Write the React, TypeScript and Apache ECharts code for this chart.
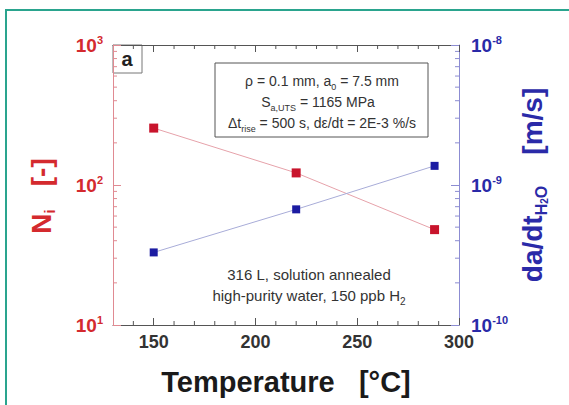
import React, { useEffect, useRef } from "react";
import * as echarts from "echarts";

// ---- data ----
const TEMPS = [150, 220, 288];
const CYCLES = [255, 122, 48];
const RATES = [3.3e-10, 6.7e-10, 1.37e-9];

const X_MIN = 130;
const X_MAX = 300;
const Y1_MIN = 10;
const Y1_MAX = 1000;
const Y2_MIN = 1e-10;
const Y2_MAX = 1e-8;

const X_MAJOR = [150, 200, 250, 300];
const X_MINOR = [140, 160, 170, 180, 190, 210, 220, 230, 240, 260, 270, 280, 290];
const LEFT_MINOR = [20, 30, 40, 50, 60, 70, 80, 90, 200, 300, 400, 500, 600, 700, 800, 900];
const RIGHT_MINOR = [2e-10, 3e-10, 4e-10, 5e-10, 6e-10, 7e-10, 8e-10, 9e-10, 2e-9, 3e-9, 4e-9, 5e-9, 6e-9, 7e-9, 8e-9, 9e-9];

// ---- styles ----
const FONT = "'Liberation Sans', Arial, Helvetica, sans-serif";
const RED = "#d42a2e";
const RED_MARK = "#c8142c";
const RED_LINE = "#e6a2aa";
const RED_AXIS = "#e08a92";
const BLUE = "#2a2aa8";
const BLUE_MARK = "#1c1ca2";
const BLUE_LINE = "#a8acd8";
const BLUE_AXIS = "#8c8cd2";
const DARK = "#333333";
const TEAL = "#2aa48e";

const supLabel = (v: number) => {
  const e = Math.round(Math.log10(v));
  return "{b|10}{s|" + e + "}";
};

const labelRich = (color: string) => ({
  b: { fontSize: 19, fontWeight: "bold", color, fontFamily: FONT, lineHeight: 22 },
  s: { fontSize: 11, fontWeight: "bold", color, fontFamily: FONT, verticalAlign: "top", lineHeight: 12 },
});

export default function App() {
  const ref = useRef<HTMLDivElement>(null);
  useEffect(() => {
    if (!ref.current) return;
    const chart = echarts.init(ref.current, undefined, { renderer: "svg" });

    const subRich = {
      sub: { fontSize: 9, fontFamily: FONT, fill: DARK, verticalAlign: "bottom", lineHeight: 10 },
    };

    const option: any = {
      animation: false,
      backgroundColor: "#ffffff",
      grid: { left: 113, right: 110, top: 45, bottom: 80, containLabel: false },
      xAxis: [
        {
          type: "value",
          min: X_MIN,
          max: X_MAX,
          position: "bottom",
          axisLine: { show: true, lineStyle: { color: "#555555", width: 1 } },
          axisTick: { show: true, inside: true, length: 7, customValues: X_MAJOR, lineStyle: { color: "#555555" } },
          axisLabel: {
            customValues: X_MAJOR,
            fontSize: 18,
            fontWeight: "bold",
            color: DARK,
            fontFamily: FONT,
            margin: 8,
          },
          splitLine: { show: false },
          name: "Temperature   [°C]",
          nameLocation: "middle",
          nameGap: 42,
          nameTextStyle: { fontSize: 29, fontWeight: "bold", color: "#1a1a1a", fontFamily: FONT },
        },
        {
          type: "value",
          min: X_MIN,
          max: X_MAX,
          position: "top",
          axisLine: { show: true, lineStyle: { color: "#555555", width: 1 } },
          axisTick: { show: true, inside: true, length: 7, customValues: X_MAJOR, lineStyle: { color: "#555555" } },
          axisLabel: { show: false },
          splitLine: { show: false },
        },
      ],
      yAxis: [
        {
          type: "log",
          logBase: 10,
          min: Y1_MIN,
          max: Y1_MAX,
          position: "left",
          axisLine: { show: true, lineStyle: { color: RED_AXIS, width: 1 } },
          axisTick: { show: true, inside: true, length: 8, lineStyle: { color: RED_AXIS } },
          axisLabel: {
            formatter: (v: number) => supLabel(v),
            rich: labelRich(RED),
            margin: 10,
          },
          splitLine: { show: false },
          name: "{n|N}{ns|i}{n|   [-]}",
          nameLocation: "middle",
          nameRotate: 90,
          nameGap: 56,
          nameTextStyle: {
            padding: [0, 22, 0, 0],
            rich: {
              n: { fontSize: 28, fontWeight: "bold", color: RED, fontFamily: FONT, lineHeight: 32 },
              ns: { fontSize: 14, fontWeight: "bold", color: RED, fontFamily: FONT, verticalAlign: "bottom", lineHeight: 14 },
            },
          },
        },
        {
          type: "log",
          logBase: 10,
          min: Y2_MIN,
          max: Y2_MAX,
          position: "right",
          axisLine: { show: true, lineStyle: { color: BLUE_AXIS, width: 1 } },
          axisTick: { show: true, inside: true, length: 8, lineStyle: { color: BLUE_AXIS } },
          axisLabel: {
            formatter: (v: number) => supLabel(v),
            rich: labelRich(BLUE),
            margin: 12,
          },
          splitLine: { show: false },
          name: "{n|da/dt}{s|H}{s2|2}{s|O}{n|    [m/s]}",
          nameLocation: "middle",
          nameRotate: 90,
          nameGap: 55,
          nameTextStyle: {
            rich: {
              n: { fontSize: 28, fontWeight: "bold", color: BLUE, fontFamily: FONT, lineHeight: 34 },
              s: { fontSize: 16, fontWeight: "bold", color: BLUE, fontFamily: FONT, verticalAlign: "bottom", lineHeight: 16 },
              s2: { fontSize: 10, fontWeight: "bold", color: BLUE, fontFamily: FONT, verticalAlign: "bottom", lineHeight: 6 },
            },
          },
        },
      ],
      series: [
        {
          name: "cycles",
          type: "line",
          xAxisIndex: 0,
          yAxisIndex: 0,
          data: TEMPS.map((t, i) => [t, CYCLES[i]]),
          symbol: "rect",
          symbolSize: 9,
          itemStyle: { color: RED_MARK },
          lineStyle: { color: RED_LINE, width: 1 },
          z: 5,
        },
        {
          name: "rate",
          type: "line",
          xAxisIndex: 0,
          yAxisIndex: 1,
          data: TEMPS.map((t, i) => [t, RATES[i]]),
          symbol: "rect",
          symbolSize: 8,
          itemStyle: { color: BLUE_MARK },
          lineStyle: { color: BLUE_LINE, width: 1 },
          z: 5,
        },
        {
          type: "custom",
          xAxisIndex: 0,
          yAxisIndex: 0,
          silent: true,
          data: X_MINOR.map((v) => [v]),
          renderItem: (params: any, api: any) => {
            const x = api.value(0);
            const b = api.coord([x, Y1_MIN]);
            const t = api.coord([x, Y1_MAX]);
            return {
              type: "group",
              children: [
                { type: "line", shape: { x1: b[0], y1: b[1], x2: b[0], y2: b[1] - 4 }, style: { stroke: "#555555", lineWidth: 1 } },
                { type: "line", shape: { x1: t[0], y1: t[1], x2: t[0], y2: t[1] + 4 }, style: { stroke: "#555555", lineWidth: 1 } },
              ],
            };
          },
          z: 3,
        },
        {
          type: "custom",
          xAxisIndex: 0,
          yAxisIndex: 0,
          silent: true,
          data: LEFT_MINOR.map((v) => [X_MIN, v]),
          renderItem: (params: any, api: any) => {
            const p = api.coord([api.value(0), api.value(1)]);
            return { type: "line", shape: { x1: p[0], y1: p[1], x2: p[0] + 4, y2: p[1] }, style: { stroke: RED_AXIS, lineWidth: 1 } };
          },
          z: 3,
        },
        {
          type: "custom",
          xAxisIndex: 0,
          yAxisIndex: 1,
          silent: true,
          data: RIGHT_MINOR.map((v) => [X_MAX, v]),
          renderItem: (params: any, api: any) => {
            const p = api.coord([api.value(0), api.value(1)]);
            return { type: "line", shape: { x1: p[0], y1: p[1], x2: p[0] - 4, y2: p[1] }, style: { stroke: BLUE_AXIS, lineWidth: 1 } };
          },
          z: 3,
        },
      ],
      graphic: [
        { type: "line", shape: { x1: 5, y1: 10, x2: 569, y2: 10 }, style: { stroke: TEAL, lineWidth: 2 }, silent: true },
        { type: "line", shape: { x1: 6, y1: 10, x2: 6, y2: 405 }, style: { stroke: TEAL, lineWidth: 2 }, silent: true },
        { type: "rect", shape: { x: 113, y: 45, width: 29, height: 28 }, style: { fill: "none", stroke: "#777777", lineWidth: 1 }, silent: true },
        {
          type: "text",
          x: 127,
          y: 59,
          style: { text: "a", fontSize: 20, fontWeight: "bold", fontFamily: FONT, fill: "#222222", align: "center", verticalAlign: "middle" },
          silent: true,
        },
        { type: "rect", shape: { x: 215, y: 63, width: 213, height: 74 }, style: { fill: "#ffffff", stroke: "#555555", lineWidth: 1 }, silent: true, z: 10 },
        {
          type: "text",
          x: 322,
          y: 81,
          z: 11,
          style: {
            text: "ρ = 0.1 mm, a{sub|0} = 7.5 mm",
            rich: subRich,
            fontSize: 14,
            lineHeight: 20,
            fontFamily: FONT,
            fill: DARK,
            align: "center",
            verticalAlign: "middle",
          },
          silent: true,
        },
        {
          type: "text",
          x: 318,
          y: 102,
          z: 11,
          style: {
            text: "S{sub|a,UTS} = 1165 MPa",
            rich: subRich,
            fontSize: 14,
            lineHeight: 20,
            fontFamily: FONT,
            fill: DARK,
            align: "center",
            verticalAlign: "middle",
          },
          silent: true,
        },
        {
          type: "text",
          x: 322,
          y: 123,
          z: 11,
          style: {
            text: "Δt{sub|rise} = 500 s, dε/dt = 2E-3 %/s",
            rich: subRich,
            fontSize: 14,
            lineHeight: 20,
            fontFamily: FONT,
            fill: DARK,
            align: "center",
            verticalAlign: "middle",
          },
          silent: true,
        },
        {
          type: "text",
          x: 309,
          y: 274,
          style: { text: "316 L, solution annealed", fontSize: 15, fontFamily: FONT, fill: DARK, align: "center", verticalAlign: "middle" },
          silent: true,
        },
        {
          type: "text",
          x: 309,
          y: 295,
          style: {
            text: "high-purity water, 150 ppb H{sub|2}",
            rich: { sub: { fontSize: 10, fontFamily: FONT, fill: DARK, verticalAlign: "bottom", lineHeight: 10 } },
            fontSize: 15,
            lineHeight: 22,
            fontFamily: FONT,
            fill: DARK,
            align: "center",
            verticalAlign: "middle",
          },
          silent: true,
        },
      ],
    };

    chart.setOption(option);
    return () => chart.dispose();
  }, []);

  return (
    <div
      ref={ref}
      style={{ position: "fixed", left: 0, top: 0, width: 569, height: 405, background: "#ffffff" }}
    />
  );
}
